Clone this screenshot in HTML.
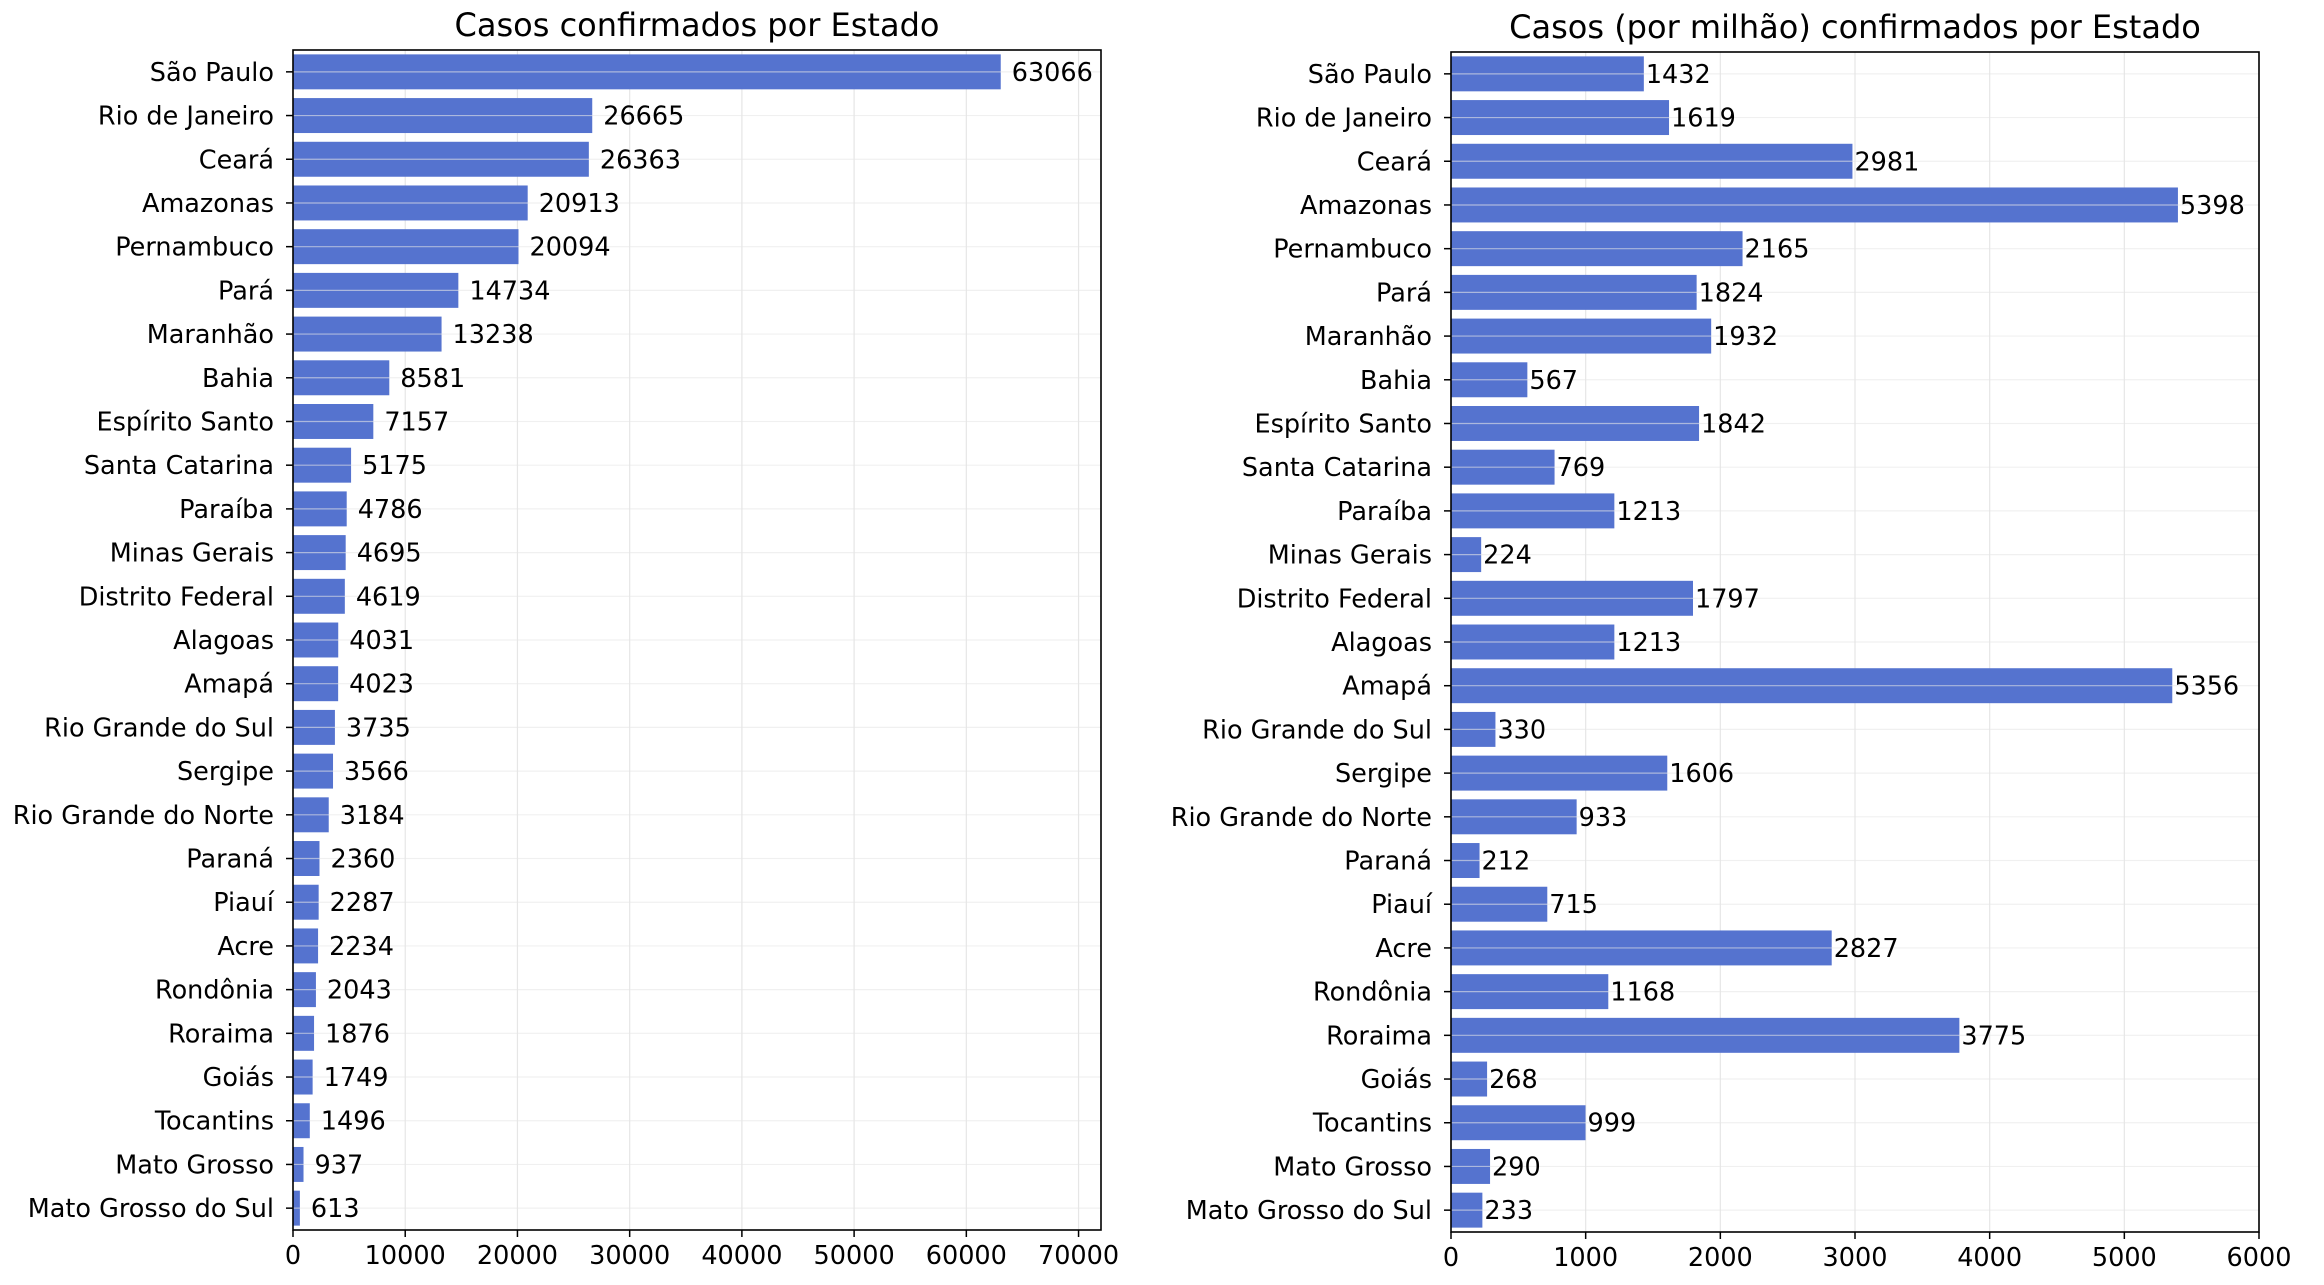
<!DOCTYPE html>
<html><head><meta charset="utf-8"><style>
html,body{margin:0;padding:0;background:#fff;}
svg text{font-family:"DejaVu Sans","Liberation Sans",sans-serif;fill:#000;}
</style></head><body>
<svg id="chart" width="2324" height="1280" xmlns="http://www.w3.org/2000/svg"></svg>
<script>
const states = ["São Paulo","Rio de Janeiro","Ceará","Amazonas","Pernambuco","Pará","Maranhão","Bahia","Espírito Santo","Santa Catarina","Paraíba","Minas Gerais","Distrito Federal","Alagoas","Amapá","Rio Grande do Sul","Sergipe","Rio Grande do Norte","Paraná","Piauí","Acre","Rondônia","Roraima","Goiás","Tocantins","Mato Grosso","Mato Grosso do Sul"];
const statesRight = ["São Paulo","Rio de Janeiro","Ceará","Amazonas","Pernambuco","Pará","Maranhão","Bahia","Espírito Santo","Santa Catarina","Paraíba","Minas Gerais","Distrito Federal","Alagoas","Amapá","Rio Grande do Sul","Sergipe","Rio Grande do Norte","Paraná","Piauí","Acre","Rondônia","Roraima","Goiás","Tocantins","Mato Grosso","Mato Grosso do Sul"];
const casesValues = [63066,26665,26363,20913,20094,14734,13238,8581,7157,5175,4786,4695,4619,4031,4023,3735,3566,3184,2360,2287,2234,2043,1876,1749,1496,937,613];
const perMillionValues = [1432,1619,2981,5398,2165,1824,1932,567,1842,769,1213,224,1797,1213,5356,330,1606,933,212,715,2827,1168,3775,268,999,290,233];
const leftTicks = [0,10000,20000,30000,40000,50000,60000,70000];
const rightTicks = [0,1000,2000,3000,4000,5000,6000];

const NS="http://www.w3.org/2000/svg";
const svg=document.getElementById('chart');
function mk(tag,attrs,parent){const e=document.createElementNS(NS,tag);for(const k in attrs)e.setAttribute(k,attrs[k]);(parent||svg).appendChild(e);return e;}

function panel(cfg){
  const g=mk('g',{});
  
  
  const {x0,x1,y0,y1,xmax,cats,vals,ticks,labelGap,title}=cfg;
  const xs=v=>x0+(v/xmax)*(x1-x0);
  const n=cats.length, step=(y1-y0)/n;
  const yc=i=>y0+step*(i+0.5);
  const t=mk('text',{x:(x0+x1)/2,y:y0-14,'text-anchor':'middle','font-size':32},g);
  t.textContent=title;
  
  
  ticks.forEach(v=>{
    const l=mk('line',{x1:xs(v),x2:xs(v),y1:y0,y2:y1,stroke:'#e6e6e6','stroke-width':1.2},g);
    
    
  });
  cats.forEach((c,i)=>{
    const h=step*0.8;
    const r=mk('rect',{x:x0,y:yc(i)-h/2,width:xs(vals[i])-x0,height:h,fill:'#5573cf'},g);
    
    
    const gl=mk('line',{x1:x0,x2:x1,y1:yc(i),y2:yc(i),stroke:'#e6e6e6','stroke-opacity':0.6,'stroke-width':1.2},g);
    
    
    const vl=mk('text',{x:xs(vals[i])+labelGap,y:yc(i)+9,'font-size':25.5},g);
    vl.textContent=vals[i];
    
    
    const tk=mk('line',{x1:x0-7,x2:x0,y1:yc(i),y2:yc(i),stroke:'#000','stroke-width':1.5},g);
    
    
    const cl=mk('text',{x:x0-19,y:yc(i)+9,'font-size':25.5,'text-anchor':'end'},g);
    cl.textContent=c;
    
    
  });
  ticks.forEach(v=>{
    const tk=mk('line',{x1:xs(v),x2:xs(v),y1:y1,y2:y1+7,stroke:'#000','stroke-width':1.5},g);
    
    
    const tl=mk('text',{x:xs(v),y:y1+34,'font-size':25.5,'text-anchor':'middle'},g);
    tl.textContent=v;
    
    
  });
  const fr=mk('rect',{x:x0,y:y0,width:x1-x0,height:y1-y0,fill:'none',stroke:'#000','stroke-width':1.6},g);
  
  
}
panel({name:'cases-panel',x0:293,x1:1101,y0:50,y1:1230,xmax:72000,cats:states,vals:casesValues,ticks:leftTicks,labelGap:11,title:'Casos confirmados por Estado'});
panel({name:'cases-per-million-panel',x0:1451,x1:2259,y0:52,y1:1232,xmax:6000,cats:statesRight,vals:perMillionValues,ticks:rightTicks,labelGap:2,title:'Casos (por milhão) confirmados por Estado'});
</script>
</body></html>
